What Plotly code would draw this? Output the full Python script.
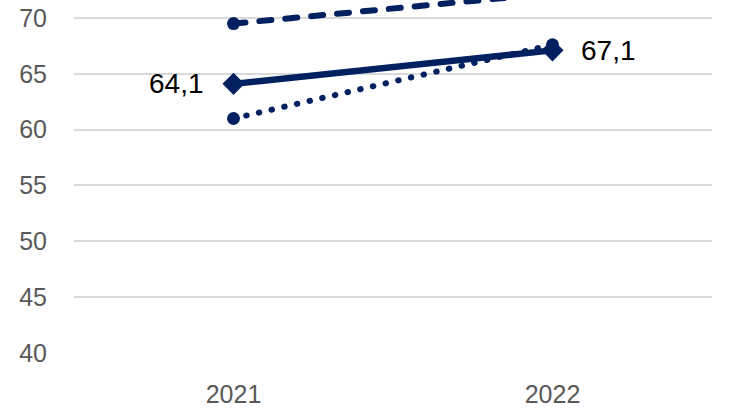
import plotly.graph_objects as go

years = ["2021", "2022"]
series_solid = [64.1, 67.1]
series_dashed = [69.5, 72.2]
series_dotted = [61.0, 67.6]
y_ticks = [40, 45, 50, 55, 60, 65, 70]

NAVY = "#002060"
FONT = "Liberation Sans, Arial, sans-serif"

fig = go.Figure()

fig.add_trace(go.Scatter(
    x=years, y=series_dashed, mode="lines+markers",
    line=dict(color=NAVY, width=6, dash="12px,14px"),
    marker=dict(symbol="circle", size=13, color=NAVY),
    showlegend=False))

fig.add_trace(go.Scatter(
    x=years, y=series_solid, mode="lines+markers",
    line=dict(color=NAVY, width=6.5),
    marker=dict(symbol="diamond", size=17, color=NAVY),
    showlegend=False))

fig.add_trace(go.Scatter(
    x=years, y=series_dotted, mode="lines+markers",
    line=dict(color=NAVY, width=6, dash="0.5px,12.5px"),
    marker=dict(symbol="circle", size=13, color=NAVY),
    showlegend=False))

def fmt(v):
    return f"{v:.1f}".replace(".", ",")

fig.add_annotation(x=years.index("2021"), y=series_solid[0], text=fmt(series_solid[0]),
                   showarrow=False, xanchor="right", xshift=-28,
                   font=dict(family=FONT, size=28, color="#000000"))
fig.add_annotation(x=years.index("2022"), y=series_solid[1], text=fmt(series_solid[1]),
                   showarrow=False, xanchor="left", xshift=26,
                   font=dict(family=FONT, size=28, color="#000000"))

fig.update_layout(
    width=746, height=419,
    margin=dict(l=74, r=34, t=0, b=66),
    paper_bgcolor="white", plot_bgcolor="white",
    font=dict(family=FONT),
)
fig.update_xaxes(type="category", range=[-0.5, 1.5], showgrid=False,
                 showline=False, zeroline=False, ticks="",
                 tickfont=dict(family=FONT, size=25, color="#595959"),
                 ticklabelstandoff=24)
fig.update_yaxes(range=[40, 71.61], tickvals=y_ticks, showgrid=True,
                 gridcolor="#d9d9d9", gridwidth=2, zeroline=False,
                 showline=False, ticks="",
                 tickfont=dict(family=FONT, size=25, color="#595959"),
                 ticklabelstandoff=26)

post = (
    "document.body.style.margin='0';"
    "document.body.style.overflow='hidden';"
    "var st=document.createElement('style');"
    "st.textContent='.scatterlayer .js-line{stroke-linecap:round !important;}';"
    "document.head.appendChild(st);"
)

fig.write_html("out.html", post_script=post, config={"displayModeBar": False})
